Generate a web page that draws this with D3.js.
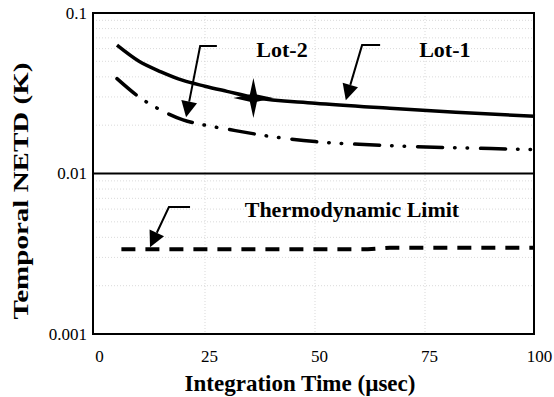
<!DOCTYPE html>
<html>
<head>
<meta charset="utf-8">
<script src="https://cdn.jsdelivr.net/npm/d3@7"></script>
<style>
  body { margin: 0; background: #fff; }
  svg { display: block; }
  text { font-family: "Liberation Serif", "Times New Roman", serif; fill: #000; }
</style>
</head>
<body>
<svg id="viz" width="554" height="397"></svg>
<script>
// integration time (usec) and temporal NETD (K)
var lot1X = [5, 10, 15, 20, 25, 30, 36, 50, 67, 82, 100];
var lot1Y = [0.063, 0.050, 0.043, 0.038, 0.035, 0.0325, 0.0298, 0.0274, 0.0255, 0.0241, 0.0227];
var lot2X = [5, 10, 15, 20, 25, 30, 40, 50, 60, 70, 80, 90, 100];
var lot2Y = [0.039, 0.030, 0.0248, 0.0216, 0.0200, 0.0189, 0.0170, 0.0158, 0.0152, 0.0148, 0.0145, 0.0143, 0.0141];
var thermoX = [6, 62, 67, 100];
var thermoY = [0.00337, 0.00337, 0.00345, 0.00345];
var starPoint = [36, 0.0295];

var xTicks = [0, 25, 50, 75, 100];
var yTicks = [0.1, 0.01, 0.001];

// callouts: [label, label x, label y, elbow end x, elbow x, elbow y, tip x, tip y]
var callouts = [
  ["Lot-2", 42.5, 0.053, 27.7, 23.9, 0.0622, 20.7, 0.0224],
  ["Lot-1", 79.5, 0.053, 64.8, 60.7, 0.0631, 57.0, 0.0286],
  ["Thermodynamic Limit", 58.4, 0.00535, 21.6, 16.8, 0.00618, 12.5, 0.00347]
];

window.onload = function () {
  var svg = d3.select("#viz");
  var left = 93, right = 534, top = 13, bottom = 334;

  var x = d3.scaleLinear().domain([0, 100]).range([95, 535]);
  var y = d3.scaleLog().domain([0.001, 0.1]).range([bottom, top]);

  // faint dotted grid
  var minor = [];
  [0.001, 0.01].forEach(function (dec) {
    for (var k = 2; k <= 9; k++) minor.push(dec * k);
  });
  var grid = svg.append("g")
    .attr("stroke", "#aaa")
    .attr("stroke-width", 0.7)
    .attr("stroke-dasharray", "1,2")
    .attr("opacity", 0.6);
  grid.selectAll("line.h")
    .data(minor)
    .join("line")
    .attr("x1", left).attr("x2", right)
    .attr("y1", function (d) { return y(d); })
    .attr("y2", function (d) { return y(d); });
  grid.selectAll("line.v")
    .data([25, 50, 75])
    .join("line")
    .attr("x1", function (d) { return x(d); })
    .attr("x2", function (d) { return x(d); })
    .attr("y1", top).attr("y2", bottom);

  // frame and the 0.01 line
  svg.append("rect")
    .attr("x", left).attr("y", top)
    .attr("width", right - left).attr("height", bottom - top)
    .attr("fill", "none").attr("stroke", "#000").attr("stroke-width", 2);
  svg.append("line")
    .attr("x1", left).attr("x2", right)
    .attr("y1", y(0.01)).attr("y2", y(0.01))
    .attr("stroke", "#000").attr("stroke-width", 2);

  // axes (labels only)
  var yAxis = svg.append("g")
    .attr("transform", "translate(" + left + ",0)")
    .call(d3.axisLeft(y).tickValues(yTicks).tickFormat(d3.format("~g")).tickSize(0).tickPadding(6));
  var xAxis = svg.append("g")
    .attr("transform", "translate(0," + bottom + ")")
    .call(d3.axisBottom(x).tickValues(xTicks).tickSize(0).tickPadding(16));
  [yAxis, xAxis].forEach(function (ax) {
    ax.attr("font-family", null).attr("font-size", null);
    ax.select(".domain").remove();
    ax.selectAll("text")
      .style("font-family", '"Liberation Serif", "Times New Roman", serif')
      .style("font-size", "17px")
      .attr("fill", "#000");
  });
  xAxis.selectAll("text").attr("dx", 4);

  // curves
  var line = d3.line()
    .x(function (d) { return x(d[0]); })
    .y(function (d) { return y(d[1]); })
    .curve(d3.curveMonotoneX);

  svg.append("path")
    .datum(d3.zip(lot1X, lot1Y))
    .attr("d", line)
    .attr("fill", "none").attr("stroke", "#000").attr("stroke-width", 3.5);

  svg.append("path")
    .datum(d3.zip(lot2X, lot2Y))
    .attr("d", line)
    .attr("fill", "none").attr("stroke", "#000").attr("stroke-width", 3.5)
    .attr("stroke-linecap", "round")
    .attr("stroke-dasharray", "25,12,0.5,12,0.5,13");

  svg.append("path")
    .datum(d3.zip(thermoX, thermoY))
    .attr("d", d3.line().x(function (d) { return x(d[0]); }).y(function (d) { return y(d[1]); }))
    .attr("fill", "none").attr("stroke", "#000").attr("stroke-width", 4)
    .attr("stroke-dasharray", "14,10");

  // four-point star marker
  var sx = x(starPoint[0]), sy = y(starPoint[1]);
  var pts = [];
  for (var i = 0; i < 8; i++) {
    var a = i * Math.PI / 4 - Math.PI / 2;
    var r = i % 2 === 0 ? 20 : 5;
    pts.push([sx + r * Math.cos(a), sy + r * Math.sin(a)]);
  }
  svg.append("path")
    .attr("d", "M" + pts.join("L") + "Z")
    .attr("fill", "#000");

  // callouts
  callouts.forEach(function (c) {
    var ex = x(c[3]), cx = x(c[4]), cy = y(c[5]), tx = x(c[6]), ty = y(c[7]);
    var ang = Math.atan2(ty - cy, tx - cx);
    var len = 16, hw = 8;
    var bx = tx - len * Math.cos(ang), by = ty - len * Math.sin(ang);
    svg.append("path")
      .attr("d", "M" + ex + "," + cy + "L" + cx + "," + cy + "L" + bx + "," + by)
      .attr("fill", "none").attr("stroke", "#000").attr("stroke-width", 2);
    svg.append("path")
      .attr("d", "M" + tx + "," + ty +
        "L" + (bx + hw * Math.sin(ang)) + "," + (by - hw * Math.cos(ang)) +
        "L" + (bx - hw * Math.sin(ang)) + "," + (by + hw * Math.cos(ang)) + "Z")
      .attr("fill", "#000");
    svg.append("text")
      .attr("x", x(c[1])).attr("y", y(c[2]))
      .attr("text-anchor", "middle")
      .style("font-size", "22px").style("font-weight", "bold")
      .text(c[0]);
  });

  // axis titles
  svg.append("text")
    .attr("transform", "translate(28,191) rotate(-90)")
    .attr("text-anchor", "middle")
    .attr("textLength", 257).attr("lengthAdjust", "spacingAndGlyphs")
    .style("font-size", "22px").style("font-weight", "bold")
    .text("Temporal NETD (K)");
  svg.append("text")
    .attr("x", 300).attr("y", 391)
    .attr("text-anchor", "middle")
    .style("font-size", "23px").style("font-weight", "bold")
    .text("Integration Time (\u00b5sec)");
};
</script>
</body>
</html>
